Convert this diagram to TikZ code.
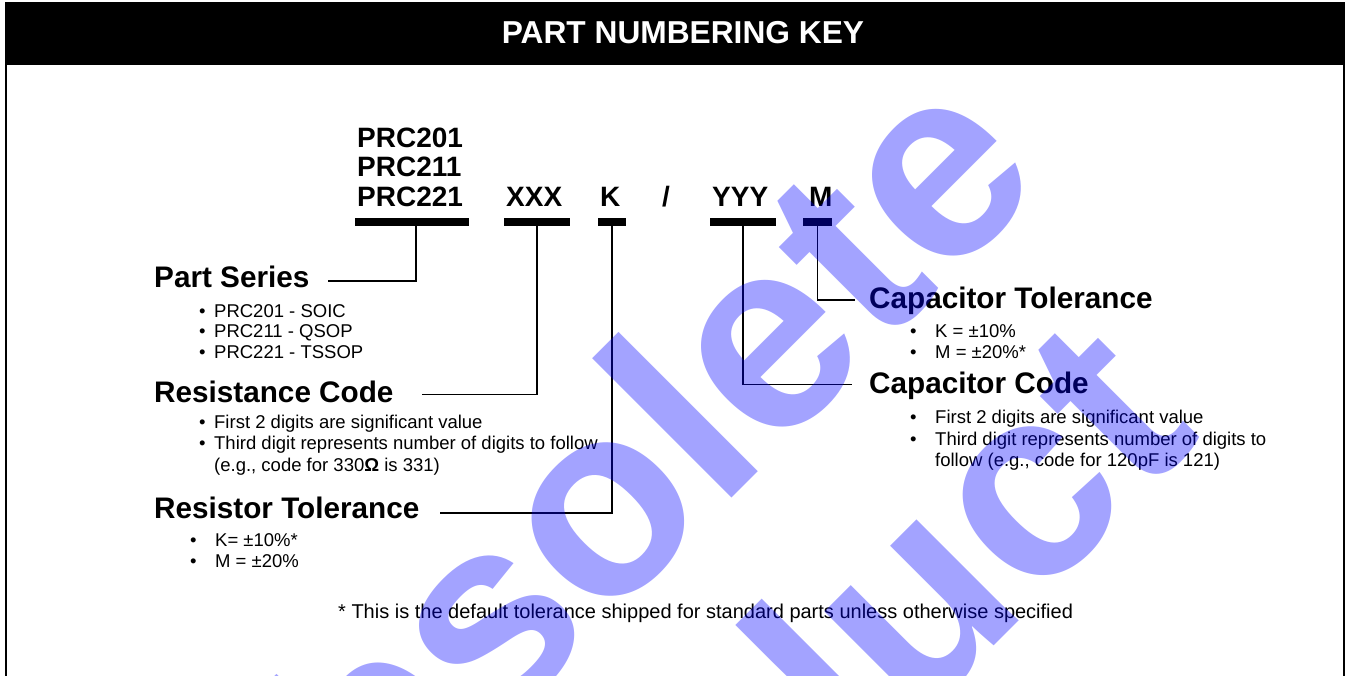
\documentclass[tikz,border=0pt]{standalone}
\usepackage{fontspec}
\setmainfont{Liberation Sans}
\newcommand\titlefont{\fontsize{31.7}{36}\selectfont\bfseries}
\newcommand\pnfont{\fontsize{28}{32}\selectfont\bfseries}
\newcommand\headfont{\fontsize{29.7}{34}\selectfont\bfseries}
\newcommand\itemfont{\fontsize{18.5}{21}\selectfont}
\newcommand\notefont{\fontsize{20}{23}\selectfont}
\newcommand\wmfont{\fontsize{272}{300}\selectfont\bfseries}
\newcommand\bl[1]{\makebox[#1][l]{\textbullet}}

\begin{document}
\begin{tikzpicture}[x=1pt, y=-1pt,
	pn/.style={font=\pnfont, inner sep=0pt, anchor=base west},
	head/.style={font=\headfont, inner sep=0pt, anchor=base west},
	itm/.style={font=\itemfont, inner sep=0pt, anchor=base west},
	bar/.style={fill=black, inner sep=0pt, minimum height=7.7pt},
	lead/.style={line width=1.8pt},
	wm/.style={font=\wmfont, text=blue, text opacity=0.36, inner sep=0pt, anchor=base, rotate=45}]
	\useasboundingbox (0,0) rectangle (1349,675);

		\draw[line width=2pt] (6,3) rectangle (1344,720); % Рамка
		\fill (5,2) rectangle (1345,65);                 % Шапка
		\node[font=\titlefont, text=white, inner sep=0pt, anchor=base] (title) at (683,43.5) {PART NUMBERING KEY};

		% Номер детали
		\node[pn] (prc1) at (357,147.7) {PRC201};
		\node[pn] (prc2) at (357,176.7) {PRC211};
		\node[pn] (prc3) at (357,206) {PRC221};
		\node[pn] (xxx) at (506,206) {XXX};
		\node[pn] (kk) at (600,206) {K};
		\node[pn] (slash) at (662,206) {/};
		\node[pn] (yyy) at (712,206) {YYY};
		\node[pn] (mm) at (809,206) {M};

		\node[bar, minimum width=114pt] (barprc) at (412,222) {};
		\node[bar, minimum width=66pt] (barxxx) at (537,222) {};
		\node[bar, minimum width=28pt] (bark) at (612,222) {};
		\node[bar, minimum width=66pt] (baryyy) at (743,222) {};
		\node[bar, minimum width=29pt] (barm) at (817.5,222) {};

		% Выноски
		\coordinate (psend) at (328,281);
		\coordinate (rcend) at (422,394.5);
		\coordinate (rtend) at (440,512.7);
		\coordinate (ctend) at (855,300);
		\coordinate (ccend) at (852,384.5);
		\draw[lead] ([xshift=4pt]barprc.south) |- (psend);
		\draw[lead] (barxxx.south) |- (rcend);
		\draw[lead] (bark.south) |- (rtend);
		\draw[lead] (barm.south) |- (ctend);
		\draw[lead] (baryyy.south) |- (ccend);

		% Левая колонка
		\node[head] (series) at (154,287) {Part Series};
		\node[itm] (ps1) at (199,317) {\bl{15pt}PRC201 - SOIC};
		\node[itm] (ps2) at (199,337.5) {\bl{15pt}PRC211 - QSOP};
		\node[itm] (ps3) at (199,358) {\bl{15pt}PRC221 - TSSOP};

		\node[head] (rescode) at (154,402) {Resistance Code};
		\node[itm] (rc1) at (199,428.5) {\bl{15pt}First 2 digits are significant value};
		\node[itm] (rc2) at (199,449.5) {\bl{15pt}Third digit represents number of digits to follow};
		\node[itm] (rc3) at (214,471) {(e.g., code for 330\textbf{Ω} is 331)};

		\node[head] (restol) at (154,518) {Resistor Tolerance};
		\node[itm] (rt1) at (190,546) {\bl{25pt}K= ±10\%*};
		\node[itm] (rt2) at (190,567.5) {\bl{25pt}M = ±20\%};

		% Правая колонка
		\node[head] (captol) at (869,308) {Capacitor Tolerance};
		\node[itm] (ct1) at (910,337) {\bl{25pt}K = ±10\%};
		\node[itm] (ct2) at (910,358) {\bl{25pt}M = ±20\%*};

		\node[head] (capcode) at (869,393.3) {Capacitor Code};
		\node[itm] (cc1) at (910,423) {\bl{25pt}First 2 digits are significant value};
		\node[itm] (cc2) at (910,445) {\bl{25pt}Third digit represents number of digits to};
		\node[itm] (cc3) at (935,466.7) {follow (e.g., code for 120pF is 121)};

		\node[itm, font=\notefont] (note) at (338,618) {* This is the default tolerance shipped for standard parts unless otherwise specified};

		% Водяной знак
		\node[wm] (wmobs) at (638,592) {Obsolete};
		\node[wm] (wmprod) at (840,800) {Product};
\end{tikzpicture}
\end{document}
